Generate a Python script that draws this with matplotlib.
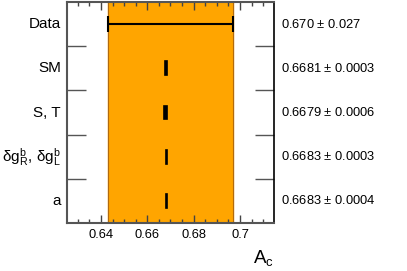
import matplotlib
matplotlib.use("Agg")
from matplotlib import pyplot as plt
from matplotlib.ticker import MultipleLocator, FixedLocator

plt.rcParams['font.family'] = ['Liberation Sans', 'DejaVu Sans']
plt.rcParams['mathtext.fontset'] = 'custom'
plt.rcParams['mathtext.rm'] = 'Liberation Sans'
plt.rcParams['mathtext.it'] = 'Liberation Sans'

# rows from top to bottom
labels = ['Data', 'SM', 'S, T', r'$\mathregular{\delta g_R^b,\, \delta g_L^b}$', 'a']
values = [0.670, 0.6681, 0.6679, 0.6683, 0.6683]
errors = [0.027, 0.0003, 0.0006, 0.0003, 0.0004]
value_text = ['0.670 $\\pm$ 0.027', '0.6681 $\\pm$ 0.0003', '0.6679 $\\pm$ 0.0006',
              '0.6683 $\\pm$ 0.0003', '0.6683 $\\pm$ 0.0004']
xticks = [0.64, 0.66, 0.68, 0.70]
xtick_labels = ['0.64', '0.66', '0.68', '0.7']

fig = plt.figure(figsize=(4.07, 2.71), dpi=100)
ax = fig.add_axes([0.1646, 0.1771, 0.5086, 0.8155])

n = len(labels)
ypos = [n - 0.5 - i for i in range(n)]

# data band
ax.axvspan(values[0] - errors[0], values[0] + errors[0], color='#FFA500', zorder=0)
ax.axvline(values[0] - errors[0], color='#b06a10', lw=0.8, zorder=1)
ax.axvline(values[0] + errors[0], color='#b06a10', lw=0.8, zorder=1)

# data point
ax.errorbar(values[0], ypos[0], xerr=errors[0], fmt='none', ecolor='black',
            elinewidth=1.5, capsize=6, capthick=1.5, zorder=3)

# fit results
for v, e, y in zip(values[1:], errors[1:], ypos[1:]):
    ax.barh(y, 2 * e, left=v - e, height=0.31, color='black', edgecolor='black',
            linewidth=1.2, zorder=3)

ax.set_xlim(0.6253, 0.7147)
ax.set_ylim(0, n)

ax.xaxis.set_major_locator(FixedLocator(xticks))
ax.set_xticklabels(xtick_labels)
ax.xaxis.set_minor_locator(MultipleLocator(0.005))
ax.tick_params(axis='x', which='major', direction='in', top=True, length=6,
               width=1, labelsize=9.3, pad=4, color='#444444')
ax.tick_params(axis='x', which='minor', direction='in', top=True, length=3,
               width=1, color='#444444')

ax.yaxis.set_major_locator(FixedLocator([1, 2, 3, 4]))
ax.set_yticklabels([])
ax.tick_params(axis='y', which='major', direction='in', right=True, length=14,
               width=1, color='#555555')

for side in ['left', 'bottom', 'top']:
    ax.spines[side].set_color('#555555')
    ax.spines[side].set_linewidth(1.5)
ax.spines['right'].set_color('black')
ax.spines['right'].set_linewidth(1.2)

for lab, txt, y in zip(labels, value_text, ypos):
    ax.text(-0.03, y / n, lab, transform=ax.transAxes, ha='right', va='center',
            fontsize=11)
    ax.text(1.035, y / n, txt, transform=ax.transAxes, ha='left', va='center',
            fontsize=9.3)

ax.text(1.0, -0.16, r'$\mathregular{A_c}$', transform=ax.transAxes, ha='right',
        va='center', fontsize=13.5)

fig.savefig('out.png', dpi=100)
